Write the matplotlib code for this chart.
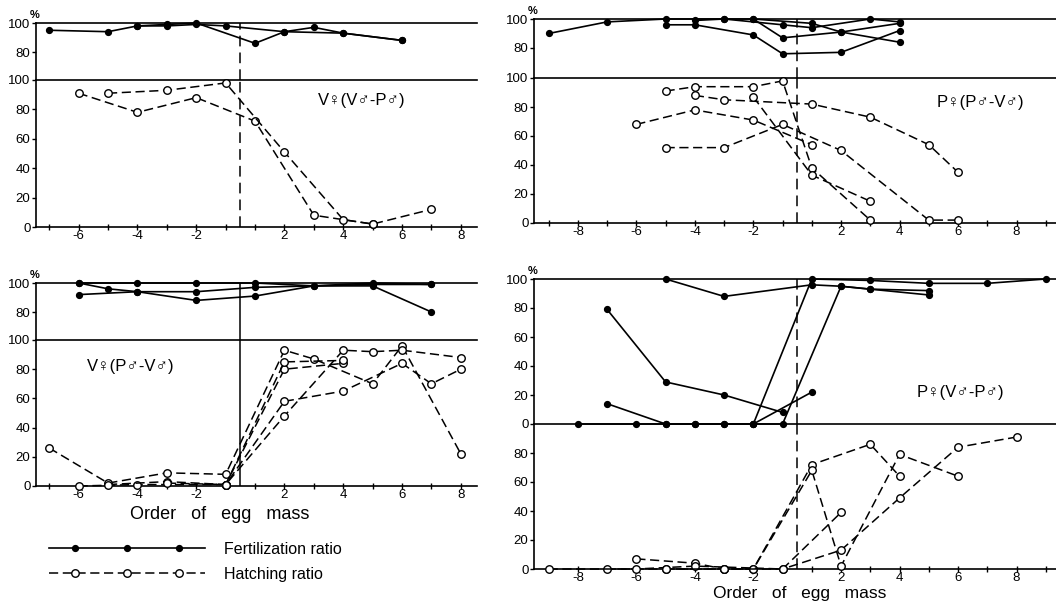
import matplotlib
matplotlib.use('Agg')
import matplotlib.pyplot as plt
from matplotlib.lines import Line2D
from matplotlib.legend_handler import HandlerLine2D

plt.rcParams['font.family'] = ['Liberation Sans', 'DejaVu Sans']

W, H = 1056, 607

# ---------------- data (order of egg mass, percent) ----------------
tick_orders = [-8, -6, -4, -2, 2, 4, 6, 8]

tl_fert = [
    ([-7, -5, -4, -3, -2, -1, 2, 3, 4, 6], [95, 94, 98, 98, 99, 98, 94, 97, 93, 88]),
    ([-4, -3, -2, 1, 2, 4, 6], [98, 99, 100, 86, 94, 93, 88]),
]
tl_hatch = [
    ([-6, -4, -2, 1, 3, 5, 7], [91, 78, 88, 72, 8, 2, 12]),
    ([-5, -3, -1, 2, 4, 5], [91, 93, 98, 51, 5, 2]),
]

tr_fert = [
    ([-9, -7, -5, -3, -1, 1, 3, 4], [90, 98, 100, 100, 96, 94, 100, 98]),
    ([-5, -4, -2, -1, 2, 4], [96, 96, 89, 76, 77, 92]),
    ([-4, -3, -2, -1, 2, 4], [99, 100, 100, 87, 91, 97]),
    ([-2, 1, 2, 4], [100, 97, 91, 84]),
]
tr_hatch = [
    ([-5, -4, -2, -1, 1, 3], [91, 94, 94, 98, 38, 2]),
    ([-4, -3, 1, 3, 5, 6], [88, 85, 82, 73, 54, 35]),
    ([-2, 1, 3], [87, 33, 15]),
    ([-6, -4, -2, 1], [68, 78, 71, 54]),
    ([-5, -3, -1, 2, 5, 6], [52, 52, 68, 50, 2, 2]),
]

bl_fert = [
    ([-6, -4, -2, 1, 3, 5, 7], [100, 100, 100, 100, 98, 100, 99]),
    ([-6, -5, -4, -2, 1, 5, 7], [100, 96, 94, 94, 97, 99, 99]),
    ([-6, -4, -2, 1, 3, 5, 7], [92, 94, 88, 91, 98, 98, 80]),
]
bl_hatch = [
    ([-7, -5, -3, -1, 2, 3, 5, 6, 8], [26, 2, 9, 8, 93, 87, 70, 96, 22]),
    ([-6, -4, -1, 2, 4, 5, 6, 8], [0, 1, 1, 48, 93, 92, 93, 88]),
    ([-5, -3, -1, 2, 4, 6, 7, 8], [1, 3, 1, 58, 65, 84, 70, 80]),
    ([-3, -1, 2, 4], [2, 1, 80, 84]),
    ([-1, 2, 4], [1, 85, 86]),
]

br_fert = [
    ([-5, -3, 1, 2, 3, 5], [100, 88, 96, 95, 93, 92]),
    ([-8, -6, -5, -4, -3, -2, 1, 3, 5, 7, 9], [0, 0, 0, 0, 0, 0, 100, 99, 97, 97, 100]),
    ([-7, -5, -4, -3, -2, -1, 2, 3, 5], [14, 0, 0, 0, 0, 0, 95, 93, 89]),
    ([-2, 1], [0, 22]),
    ([-7, -5, -3, -1], [79, 29, 20, 8]),
]
br_hatch = [
    ([-7, -5, -3, -2, 1, 3, 4], [0, 0, 0, 0, 72, 86, 64]),
    ([-6, -4, -3, -2, 1, 2, 4, 6], [7, 4, 0, 0, 68, 2, 79, 64]),
    ([-9, -6, -4, -1, 2], [0, 0, 2, 0, 39]),
    ([-5, -3, -1, 2, 4, 6, 8], [0, 0, 0, 13, 49, 84, 91]),
]

panel_labels = ['V\u2640(V\u2642-P\u2642)', 'P\u2640(P\u2642-V\u2642)',
                'V\u2640(P\u2642-V\u2642)', 'P\u2640(V\u2642-P\u2642)']
xlabel = 'Order   of   egg   mass'
legend_labels = ['Fertilization ratio', 'Hatching ratio']


def pos(orders):
    # there is no egg mass "0": the axis runs ... -2, -1 | 1, 2 ...
    return [o if o < 0 else o - 1 for o in orders]


fig = plt.figure(figsize=(W / 100, H / 100), dpi=100)


def add_px(x0, y0, x1, y1):
    return fig.add_axes([x0 / W, 1 - y1 / H, (x1 - x0) / W, (y1 - y0) / H])


FERT = dict(color='black', lw=1.2, marker='o', ms=4.2, mfc='black', mec='black')
HATCH = dict(color='black', lw=1.1, ls=(0, (6, 3)), marker='o', ms=5.4, mfc='white',
             mec='black', mew=1.0)


def style(ax, xlim, ylim, yticks, show_x, boundary_ls):
    ax.spines['right'].set_visible(False)
    for s in ['left', 'top', 'bottom']:
        ax.spines[s].set_linewidth(1.2)
    ax.set_yticks(yticks)
    ax.set_yticklabels([str(t) for t in yticks])
    ax.tick_params(axis='y', direction='out', length=3, width=1, labelsize=9.5, pad=1)
    ax.patch.set_alpha(0)
    if show_x:
        shown = [t for t in tick_orders if xlim[0] <= pos([t])[0] <= xlim[1]]
        ax.set_xticks(pos(shown))
        ax.set_xticklabels([str(t) for t in shown])
        ax.set_xticks(range(int(xlim[0]), int(xlim[1]) + 1), minor=True)
        ax.tick_params(axis='x', which='both', direction='inout', length=4, width=1,
                       labelsize=9.5, pad=0.5)
    else:
        ax.spines['bottom'].set_visible(False)
        ax.set_xticks([])
    ax.set_xlim(*xlim)
    ax.set_ylim(*ylim)
    ax.axvline(-0.5, color='black', lw=1.1, ls=boundary_ls, zorder=2)


def panel(x0, x1, y_top, y_sep, y_bot, xlim, up_ylim, up_ticks, low_ticks,
          fert, hatch, label, label_xy, boundary_ls):
    up = add_px(x0, y_top, x1, y_sep)
    low = add_px(x0, y_sep, x1, y_bot)
    style(up, xlim, up_ylim, up_ticks, False, boundary_ls)
    style(low, xlim, (0, 100), low_ticks, True, boundary_ls)
    for xs, ys in fert:
        up.plot(pos(xs), ys, clip_on=False, zorder=3, **FERT)
    for xs, ys in hatch:
        low.plot(pos(xs), ys, clip_on=False, zorder=3, **HATCH)
    up.annotate('%', xy=(0, 1), xycoords='axes fraction', xytext=(-1, 2),
                textcoords='offset points', fontsize=8, fontweight='bold',
                ha='center', va='bottom')
    fig.text(label_xy[0] / W, 1 - label_xy[1] / H, label, fontsize=12,
             ha='center', va='center')
    return up, low


panel(36, 477, 23, 80, 227, (-7.45, 7.55), (60.7, 100), [80, 100],
      [0, 20, 40, 60, 80, 100], tl_fert, tl_hatch, panel_labels[0], (362, 100),
      (0, (7, 4)))
panel(534, 1056, 19, 78, 223, (-9.5, 8.35), (59.3, 100), [80, 100],
      [0, 20, 40, 60, 80, 100], tr_fert, tr_hatch, panel_labels[1], (980, 103),
      (0, (7, 4)))
panel(36, 477, 283, 340, 486, (-7.45, 7.55), (60.7, 100), [80, 100],
      [0, 20, 40, 60, 80, 100], bl_fert, bl_hatch, panel_labels[2], (131, 367),
      '-')
panel(534, 1056, 279, 424, 569, (-9.5, 8.35), (0, 100), [0, 20, 40, 60, 80, 100],
      [0, 20, 40, 60, 80], br_fert, br_hatch, panel_labels[3], (960, 393),
      (0, (7, 4)))

fig.text(220 / W, 1 - 519 / H, xlabel, fontsize=13, ha='center', va='baseline')
fig.text(800 / W, 1 - 598 / H, xlabel, fontsize=12.5, ha='center', va='baseline')


class InnerMarkers(HandlerLine2D):
    def create_artists(self, *args, **kwargs):
        arts = super().create_artists(*args, **kwargs)
        for a in arts:
            a.set_markevery([1, 3, 5])
        return arts


h_f = Line2D([], [], **FERT)
h_h = Line2D([], [], **HATCH)
fig.legend([h_f, h_h], legend_labels, loc='upper left',
           bbox_to_anchor=(44 / W, 1 - 542 / H), frameon=False, fontsize=11.5,
           numpoints=7, handlelength=10.4, handletextpad=0.9, labelspacing=0.6,
           borderpad=0, borderaxespad=0,
           handler_map={h_f: InnerMarkers(), h_h: InnerMarkers()})

fig.savefig('out.png', dpi=100)
